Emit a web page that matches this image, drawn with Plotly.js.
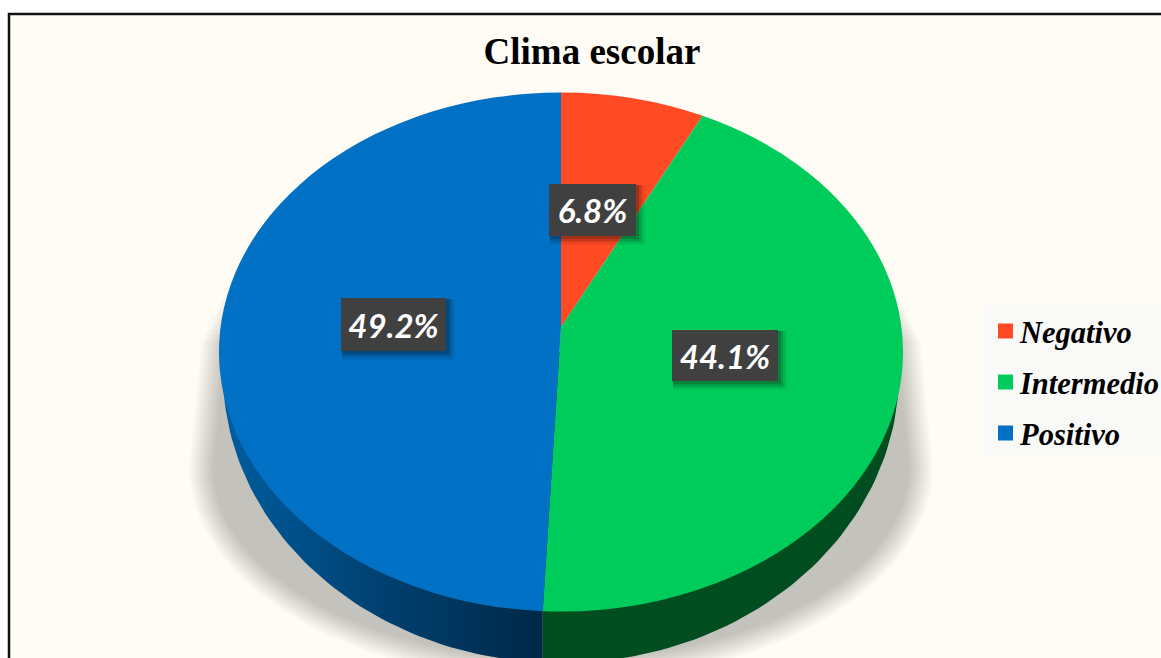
<!DOCTYPE html>
<html>
<head>
<meta charset="utf-8">
<script src="https://cdn.plot.ly/plotly-3.0.1.min.js"></script>
<style>html,body{margin:0;padding:0;background:#fff;overflow:hidden}</style>
</head>
<body>
<div id="chart" style="width:1161px;height:658px"></div>
<script>
const categories = ["Negativo", "Intermedio", "Positivo"];
const values = [6.8, 44.1, 49.2];
const sliceColors = ["#FF4A23", "#00CC5C", "#0071C5"];
const chartTitle = "Clima escolar";

/* label placement (box centres and sizes), one per slice */
const labelCx = [592.5, 725, 393.5];
const labelCy = [210, 355.5, 324.5];
const labelW = [87, 106, 105];
const labelH = [52, 51, 53];

/* pixel geometry of the tilted disc */
const W = 1161, H = 658;
const TOP = {cx: 561, cy: 352, a: 342, b: 259.5};
const BOTTOM = {cx: 561, cy: 373, a: 338, b: 290};
const SHADOW = {cx: 561, cy: 467, a: 360, b: 204};
const APEX_LIFT = 25;
const D2R = Math.PI / 180;

function arc(e, from, to, n) {
  const xs = [], ys = [];
  for (let i = 0; i <= n; i++) {
    const p = (from + (to - from) * i / n) * D2R;
    xs.push(e.cx + e.a * Math.sin(p));
    ys.push(e.cy - e.b * Math.cos(p));
  }
  return {xs, ys};
}
function poly(xs, ys, extra) {
  return Object.assign({
    type: "scatter", mode: "lines", x: xs, y: ys, fill: "toself",
    line: {width: 0}, hoverinfo: "skip", showlegend: false
  }, extra);
}

const traces = [];

/* soft cast shadow */
const LAYERS = 12;
for (let k = 0; k < LAYERS; k++) {
  const d = 12 - 24 * k / (LAYERS - 1);
  const e = {cx: SHADOW.cx, cy: SHADOW.cy, a: SHADOW.a + d, b: SHADOW.b + d};
  const c = arc(e, 90, 270, 80);
  const tipY = 340 - 60 * k / (LAYERS - 1);
  const rise = (SHADOW.cy - tipY) * 0.1;
  traces.push(poly(
    c.xs.concat([SHADOW.cx - e.a + rise, SHADOW.cx, SHADOW.cx + e.a - rise]),
    c.ys.concat([tipY, tipY, tipY]),
    {fillcolor: "rgba(0,0,0,0.0185)"}
  ));
}

/* side wall, split where the last slice boundary falls */
const boundaryDeg = (values[0] + values[1]) / values.reduce((a, b) => a + b, 0) * 360;
const bx = TOP.cx + TOP.a * Math.sin(boundaryDeg * D2R);
const phiB = 180 + Math.asin((BOTTOM.cx - bx) / BOTTOM.a) / D2R;

const gw = arc(BOTTOM, 90, phiB, 60);
traces.push(poly(
  gw.xs.concat([bx, TOP.cx + TOP.a]), gw.ys.concat([TOP.cy, TOP.cy]),
  {fillcolor: "#004D20"}
));
const bw = arc(BOTTOM, phiB, 270, 60);
traces.push(poly(
  bw.xs.concat([TOP.cx - TOP.a, bx]), bw.ys.concat([TOP.cy, TOP.cy]),
  {fillcolor: "#00447A", fillgradient: {
    type: "horizontal", start: 225, stop: bx,
    colorscale: [[0, "#005C9E"], [0.5, "#004070"], [1, "#002848"]]
  }}
));

/* top face */
traces.push({
  type: "pie", labels: categories, values: values, sort: false,
  direction: "clockwise", rotation: 0, textinfo: "none", hoverinfo: "none",
  marker: {colors: sliceColors, line: {width: 0}},
  domain: {x: [0, 1], y: [0, 1]}
});

const shapes = [{
  type: "rect", layer: "below", xref: "x", yref: "y",
  x0: 9, x1: 1200, y0: 14, y1: 720,
  fillcolor: "#FFFCF5", line: {color: "#111111", width: 2.5}
}];
const annotations = [];
values.forEach((v, i) => {
  [[9, 0.05], [7, 0.08], [5, 0.12], [3, 0.16]].forEach(s => {
    shapes.push({
      type: "rect", layer: "above", xref: "x", yref: "y",
      x0: labelCx[i] - labelW[i] / 2 + 1, x1: labelCx[i] + labelW[i] / 2 + s[0],
      y0: labelCy[i] - labelH[i] / 2 + 1, y1: labelCy[i] + labelH[i] / 2 + s[0],
      fillcolor: "rgba(0,0,0," + s[1] + ")", line: {width: 0}
    });
  });
  annotations.push({
    xref: "x", yref: "y", x: labelCx[i], y: labelCy[i],
    xanchor: "center", yanchor: "middle", showarrow: false,
    text: v.toFixed(1) + "%", width: labelW[i], height: labelH[i],
    bgcolor: "#404040", borderpad: 0, borderwidth: 0,
    font: {family: "Lato, 'Open Sans', sans-serif", size: 33, color: "#FFFFFF", weight: "bold", style: "italic"}
  });
});

const layout = {
  width: W, height: H,
  margin: {l: 0, r: 0, t: 0, b: 0, pad: 0, autoexpand: false},
  paper_bgcolor: "#FFFFFF", plot_bgcolor: "rgba(0,0,0,0)",
  title: {
    text: chartTitle, x: 592 / W, xanchor: "center", xref: "paper",
    y: 1 - 51 / H, yanchor: "middle", yref: "paper",
    font: {family: "'Liberation Serif', serif", size: 37, color: "#000000", weight: "bold"}
  },
  xaxis: {range: [0, W], visible: false, fixedrange: true},
  yaxis: {range: [H, 0], visible: false, fixedrange: true},
  showlegend: true,
  legend: {
    x: 983 / W, xanchor: "left", y: 1 - 305 / H, yanchor: "top",
    bgcolor: "#F9F9F7", borderwidth: 0, traceorder: "normal",
    font: {family: "'Liberation Serif', serif", size: 30.5, color: "#000000", weight: "bold", style: "italic"}
  },
  shapes: shapes, annotations: annotations
};

const gd = document.getElementById("chart");
Plotly.newPlot(gd, traces, layout, {displayModeBar: false, staticPlot: true}).then(() => {
  /* squash the pie into the tilted ellipse */
  const cd = gd.calcdata.find(c => c[0].trace && c[0].trace.type === "pie")[0];
  const sy = TOP.b / cd.r;
  document.querySelector(".pielayer").setAttribute("transform",
    `translate(${TOP.cx},${TOP.cy}) scale(${TOP.a / cd.r},${sy}) translate(${-cd.cx},${-cd.cy})`);

  /* perspective: the apex of the disc sits above the ellipse centre */
  const lift = APEX_LIFT / sy;
  document.querySelectorAll(".pielayer .slice path.surface").forEach(p => {
    const d = p.getAttribute("d");
    const m = d.match(/^M\s*(-?[\d.]+)[ ,](-?[\d.]+)\s*l\s*(-?[\d.]+)[ ,](-?[\d.]+)/);
    if (m) {
      p.setAttribute("d", `M${m[1]},${+m[2] - lift}l${m[3]},${+m[4] + lift}` + d.slice(m[0].length));
    }
  });

  /* legend spacing and swatches */
  const rowY = [26, 77, 128];
  const box = document.querySelector(".legend");
  const sb = box.querySelector(".scrollbox");
  sb.removeAttribute("clip-path");
  box.removeAttribute("clip-path");
  const bg = box.querySelector("rect.bg");
  bg.setAttribute("height", 152);
  bg.setAttribute("width", 300);
  box.querySelectorAll(".traces").forEach((g, i) => {
    g.setAttribute("transform", `translate(0,${rowY[i]})`);
    const t = g.querySelector(".legendtext");
    t.setAttribute("x", 37);
    g.querySelectorAll(".legendpie").forEach(p =>
      p.setAttribute("transform", "translate(22.5,0) scale(1.25)"));
  });
});
</script>
</body>
</html>
